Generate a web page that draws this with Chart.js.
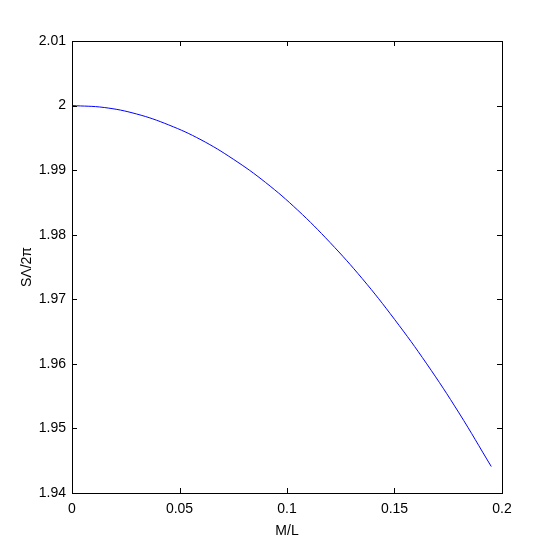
<!DOCTYPE html>
<html>
<head>
<meta charset="utf-8">
<script src="https://cdn.jsdelivr.net/npm/chart.js@4/dist/chart.umd.min.js"></script>
<style>
  html, body { margin: 0; padding: 0; background: #fff; }
  #wrap { width: 554px; height: 554px; }
</style>
</head>
<body>
<div id="wrap"><canvas id="chart" width="554" height="554"></canvas></div>
<script>
/* ── Data ── */
const xValues = [0, 0.015, 0.03, 0.045, 0.06, 0.075, 0.09, 0.105, 0.12, 0.135, 0.15, 0.165, 0.18, 0.195];
const yValues = [2.0, 1.9997, 1.9987, 1.9970, 1.9947, 1.9917, 1.9881, 1.9838, 1.9788, 1.9732, 1.9669, 1.9600, 1.9524, 1.9441];
const xTicks = [0, 0.05, 0.1, 0.15, 0.2];
const yTicks = [1.94, 1.95, 1.96, 1.97, 1.98, 1.99, 2, 2.01];

const FONT = "'Liberation Sans', Arial, sans-serif";

/* Inward ticks on all four sides plus the closing box, MATLAB style */
const boxTicks = {
  id: 'boxTicks',
  afterDraw(chart) {
    const ctx = chart.ctx;
    const a = chart.chartArea;
    const xs = chart.scales.x, ys = chart.scales.y;
    const len = 5;
    ctx.save();
    ctx.strokeStyle = '#000';
    ctx.lineWidth = 1;
    ctx.beginPath();
    xTicks.forEach(v => {
      const px = Math.round(xs.getPixelForValue(v)) + 0.5;
      ctx.moveTo(px, a.bottom); ctx.lineTo(px, a.bottom - len);
      ctx.moveTo(px, a.top); ctx.lineTo(px, a.top + len);
    });
    yTicks.forEach(v => {
      const py = Math.round(ys.getPixelForValue(v)) + 0.5;
      ctx.moveTo(a.left, py); ctx.lineTo(a.left + len, py);
      ctx.moveTo(a.right, py); ctx.lineTo(a.right - len, py);
    });
    ctx.stroke();
    ctx.strokeRect(Math.round(a.left) + 0.5, Math.round(a.top) + 0.5,
                   Math.round(a.right - a.left), Math.round(a.bottom - a.top));
    ctx.restore();
  }
};

new Chart(document.getElementById('chart'), {
  type: 'line',
  data: {
    datasets: [{
      data: xValues.map((x, i) => ({ x: x, y: yValues[i] })),
      borderColor: '#0000ff',
      borderWidth: 1,
      pointRadius: 0,
      tension: 0.4,
      fill: false
    }]
  },
  options: {
    responsive: false,
    animation: false,
    layout: { padding: { top: 41, right: 52, left: 0, bottom: 0 } },
    plugins: { legend: { display: false }, tooltip: { enabled: false } },
    scales: {
      x: {
        type: 'linear',
        min: 0,
        max: 0.2,
        afterBuildTicks: s => { s.ticks = xTicks.map(v => ({ value: v })); },
        afterFit: s => { s.height = 61; },
        grid: { display: false, drawTicks: false },
        border: { display: false },
        ticks: {
          color: '#000',
          padding: 8,
          font: { family: FONT, size: 14 },
          callback: v => String(parseFloat(v.toFixed(2)))
        },
        title: {
          display: true,
          text: 'M/L',
          color: '#000',
          font: { family: FONT, size: 14 },
          padding: { top: 2, bottom: 14 }
        }
      },
      y: {
        type: 'linear',
        min: 1.94,
        max: 2.01,
        afterBuildTicks: s => { s.ticks = yTicks.map(v => ({ value: v })); },
        afterFit: s => { s.width = 72; },
        grid: { display: false, drawTicks: false },
        border: { display: false },
        ticks: {
          color: '#000',
          padding: 6,
          font: { family: FONT, size: 14 },
          callback: v => String(parseFloat(v.toFixed(2)))
        },
        title: {
          display: true,
          text: 'SΛ/2π',
          color: '#000',
          font: { family: FONT, size: 14 },
          padding: { top: 19, bottom: 0 }
        }
      }
    }
  },
  plugins: [boxTicks]
});
</script>
</body>
</html>
